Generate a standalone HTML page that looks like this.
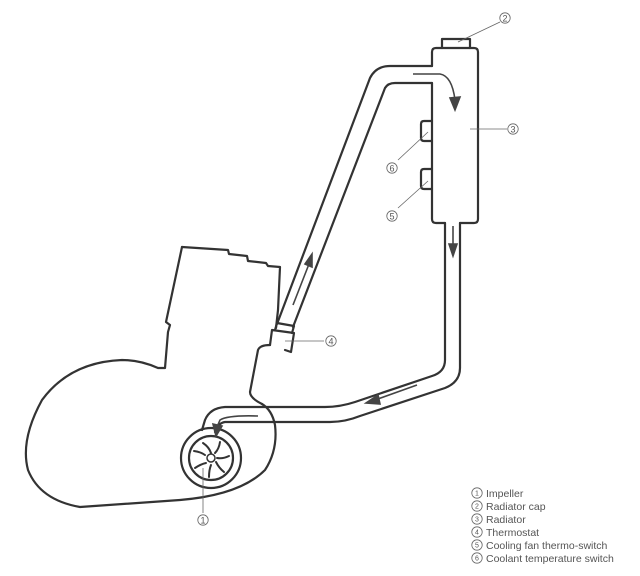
<!DOCTYPE html>
<html><head><style>
html,body{margin:0;padding:0;background:#fff;}
svg{display:block;}
text{font-family:"Liberation Sans",sans-serif;fill:#555;}
</style></head><body>
<svg width="640" height="576" viewBox="0 0 640 576" xmlns="http://www.w3.org/2000/svg">
<defs>
<g id="c"><circle r="5.2" fill="none" stroke="#666" stroke-width="0.8"/></g>
</defs>
<g fill="none" stroke="#333" stroke-width="2.2" stroke-linejoin="round" stroke-linecap="round">
<path d="M182,247 L228,250 L229,254 L247,256 L248,261 L266,263 L268,266 L280,267 L278,310 L276,328"/>
<path d="M182,247 L166,322 L170,325 L168,332 L165,368 L158,368 Q140,360 122,360 Q70,362 42,400 Q20,440 28,470 Q40,500 80,507 L180,500 Q240,495 265,470 Q278,450 275,425 Q272,410 262,404"/>
<path d="M262,404 Q250,398 250,392 L258,350 Q260,345 270,345"/>
<path d="M270,345 L272,330 L294,333 L291,352 L285,350"/>
<path d="M275,330 L277,323 L294,326 L292,333"/>
<path d="M277,324 L370,78 Q376,66 390,66 L432,66"/>
<path d="M293,327 L385,88 Q388,83 395,83 L432,83"/>
<path d="M432,66 L432,52 Q432,48 436,48 L474,48 Q478,48 478,52 L478,219 Q478,223 474,223 L460,223"/>
<path d="M432,83 L432,219 Q432,223 436,223 L445,223"/>
<path d="M442,48 L442,39 L470,39 L470,48"/>
<path d="M432,121 L424,121 Q421,121 421,124 L421,138 Q421,141 424,141 L432,141"/>
<path d="M432,169 L424,169 Q421,169 421,172 L421,186 Q421,189 424,189 L432,189"/>
<path d="M445,223 L445,360 Q445,372 432,376 L355,402 Q340,407 325,407 L225,407 Q210,408 205,420 L202,430"/>
<path d="M460,223 L460,368 Q460,382 445,388 L360,416 Q345,422 330,422 L225,422 Q218,423 215,432"/>
<circle cx="211" cy="458" r="30"/>
<circle cx="211" cy="458" r="22"/>
<circle cx="211" cy="458" r="4" stroke-width="1.5"/>
</g>
<g stroke="#333" stroke-width="2" fill="none" stroke-linecap="round">
<path d="M203,443 q6,4 8,10"/>
<path d="M220,442 q-1,7 -5,11"/>
<path d="M229,456 q-6,3 -12,2"/>
<path d="M224,472 q-5,-4 -8,-10"/>
<path d="M209,477 q0,-7 2,-12"/>
<path d="M195,468 q6,-4 11,-5"/>
<path d="M194,451 q7,1 11,4"/>
</g>
<g stroke="#444" stroke-width="1.6" fill="#444">
<path d="M413,74 L440,74 Q452,76 455,100" fill="none"/>
<path d="M450,98 L455,110 L460,97 Z"/>
<path d="M453,226 L453,246" fill="none"/>
<path d="M449,244 L453,256 L457,244 Z"/>
<path d="M293,305 L309,264" fill="none"/>
<path d="M305,264 L312,254 L312,267 Z"/>
<path d="M417,385 L375,400" fill="none"/>
<path d="M378,395 L366,403 L380,404 Z"/>
<path d="M258,416 Q228,415 220,420 L217,427" fill="none"/>
<path d="M213,424 L216,436 L222,426 Z"/>
</g>
<g stroke="#666" stroke-width="0.8" fill="none">
<path d="M458,42 L500,22"/>
<path d="M470,129 L507,129"/>
<path d="M428,132 L398,160"/>
<path d="M428,181 L398,208"/>
<path d="M285,341 L324,341"/>
<path d="M203,468 L203,513"/>
</g>
<g font-size="9" text-anchor="middle">
<use href="#c" x="505" y="18"/><text x="505" y="21.5">2</text>
<use href="#c" x="513" y="129"/><text x="513" y="132.5">3</text>
<use href="#c" x="392" y="168"/><text x="392" y="171.5">6</text>
<use href="#c" x="392" y="216"/><text x="392" y="219.5">5</text>
<use href="#c" x="331" y="341"/><text x="331" y="344.5">4</text>
<use href="#c" x="203" y="520"/><text x="203" y="523.5">1</text>
</g>
<g font-size="7" text-anchor="middle">
<use href="#c" x="477" y="493"/><text x="477" y="495.5">1</text>
<use href="#c" x="477" y="506"/><text x="477" y="508.5">2</text>
<use href="#c" x="477" y="519"/><text x="477" y="521.5">3</text>
<use href="#c" x="477" y="532"/><text x="477" y="534.5">4</text>
<use href="#c" x="477" y="545"/><text x="477" y="547.5">5</text>
<use href="#c" x="477" y="558"/><text x="477" y="560.5">6</text>
</g>
<g font-size="10.5">
<text x="486" y="497">Impeller</text>
<text x="486" y="510">Radiator cap</text>
<text x="486" y="523">Radiator</text>
<text x="486" y="536">Thermostat</text>
<text x="486" y="549">Cooling fan thermo-switch</text>
<text x="486" y="562">Coolant temperature switch</text>
</g>
</svg>
</body></html>
